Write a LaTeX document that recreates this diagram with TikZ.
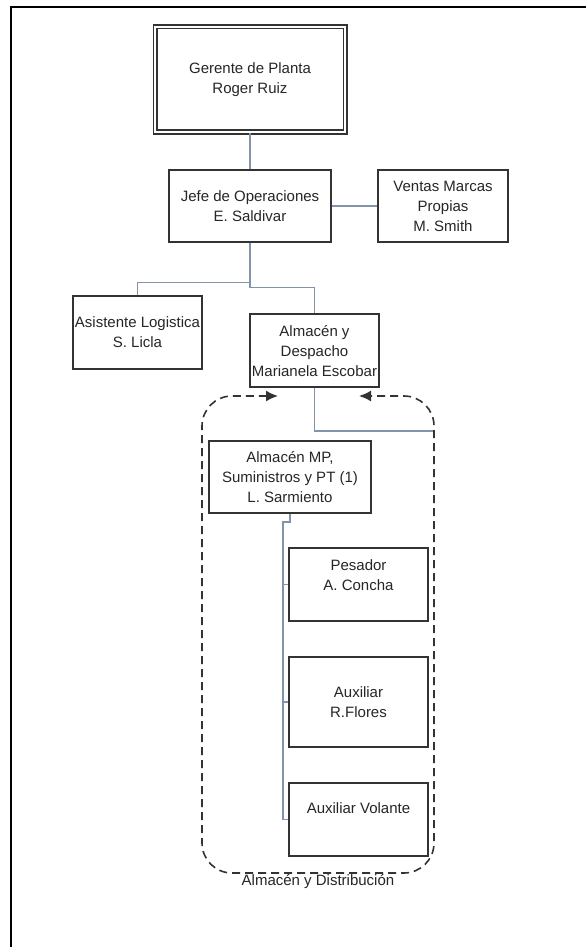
\documentclass[tikz,border=0pt]{standalone}
\usepackage{fontspec}
\setmainfont{Liberation Sans}
\usetikzlibrary{arrows.meta}
\definecolor{boxc}{HTML}{333333}
\definecolor{linkc}{HTML}{8494A8}
\begin{document}
\begin{tikzpicture}[x=1pt,y=-1pt,
  every node/.style={font=\fontsize{15}{20}\selectfont, text=black!85},
  orgbox/.style={draw=boxc, line width=1.4pt, inner sep=0pt, align=center},
  plain/.style={inner sep=0pt, align=center},
  link/.style={draw=linkc, line width=1.1pt},
  grp/.style={draw=boxc, line width=1.6pt, dash pattern=on 8pt off 5pt, rounded corners=30pt}
]
\useasboundingbox (0,0) rectangle (586,947);
\fill[white] (0,0) rectangle (586,947);
% frame (top and left edges)
\draw[line width=2pt] (586,7.5) -- (10.5,7.5) -- (10.5,947);

% boxes
\node[orgbox, draw=boxc, double=white, double distance=2.2pt, line width=1.4pt,
      minimum width=190pt, minimum height=105pt] (ger) at (250,79.5) {Gerente de Planta\\Roger Ruiz};
\node[orgbox, minimum width=162pt, minimum height=72pt] (jefe) at (250,206) {Jefe de Operaciones\\E. Saldivar};
\node[orgbox, minimum width=130pt, minimum height=72pt] (ventas) at (443,206) {Ventas Marcas\\Propias\\M. Smith};
\node[orgbox, minimum width=129pt, minimum height=73pt] (asist) at (137.5,332.5) {};
\node[plain] at (137.5,332) {Asistente Logistica\\S. Licla};
\node[orgbox, minimum width=129pt, minimum height=73pt] (almd) at (314.5,350.5) {};
\node[plain] at (314.5,351) {Almacén y\\Despacho\\Marianela Escobar};
\node[orgbox, minimum width=162pt, minimum height=72pt] (almmp) at (290,477) {Almacén MP,\\Suministros y PT (1)\\L. Sarmiento};
\node[orgbox, minimum width=139pt, minimum height=73pt] (pes) at (358.5,584.5) {};
\node[plain] at (358.5,575) {Pesador\\A. Concha};
\node[orgbox, minimum width=139pt, minimum height=90pt] (flo) at (358.5,702) {Auxiliar\\R.Flores};
\node[orgbox, minimum width=139pt, minimum height=73pt] (vol) at (358.5,819.5) {};
\node[plain] at (358.5,808) {Auxiliar Volante};

% connectors
\draw[link] (ger.south) -- (jefe.north);
\draw[link] (jefe.east) -- (ventas.west);
\draw[link] (jefe.south) -- ++(0,40) -| (asist.north);
\draw[link] (jefe.south) -- ++(0,45) -| (almd.north);
\coordinate (gr) at (434,431);
\draw[link] (almd.south) |- (gr);
\coordinate (t) at (283,522);
\draw[link] (almmp.south) |- (t) -- (t |- vol.west) -- (vol.west);
\draw[link] (t |- pes.west) -- (pes.west);
\draw[link] (t |- flo.west) -- (flo.west);

% dashed group
\coordinate (ga) at (278,396);
\coordinate (gb) at (359,396);
\draw[grp, {Latex[length=12pt,width=11pt]}-{Latex[length=12pt,width=11pt]}]
  (ga) -- (202,396) -- (202,873) -- (434,873) -- (434,396) -- (gb);
\node[plain] (glab) at (318,882) {Almacén y Distribución};
\end{tikzpicture}
\end{document}
